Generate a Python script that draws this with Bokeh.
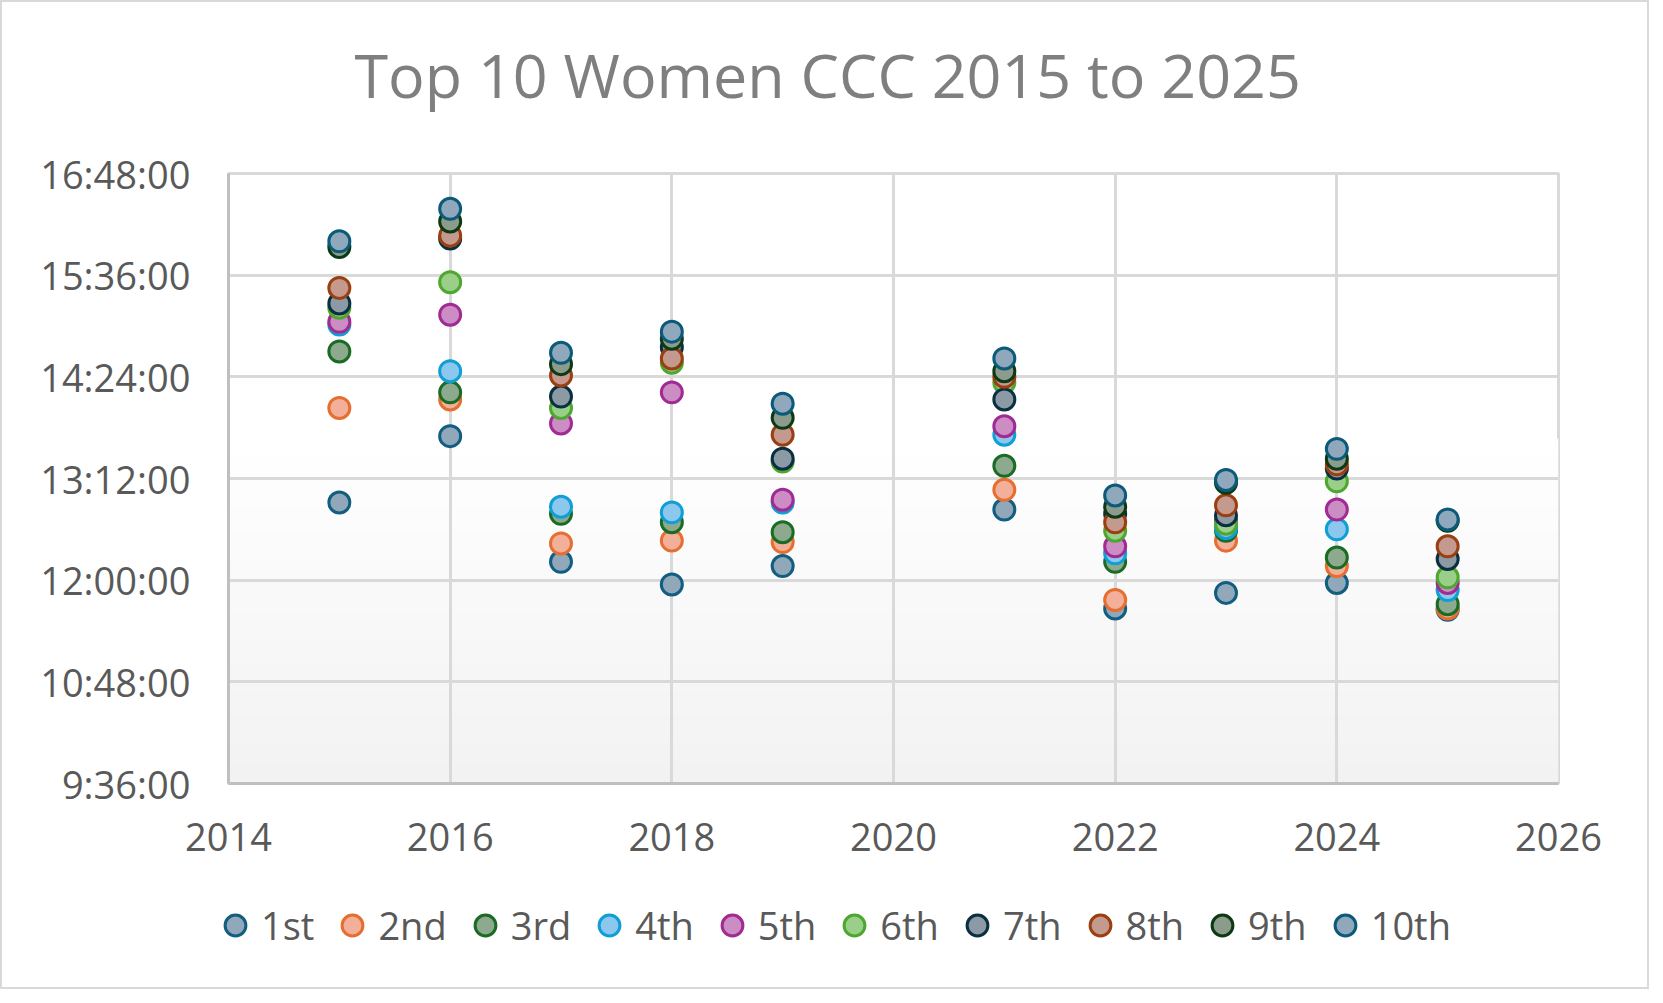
import numpy as np
from bokeh.plotting import figure
from bokeh.layouts import column
from bokeh.models import Range1d, FixedTicker, Legend, LegendItem, Title
from bokeh.embed import file_html
from bokeh.resources import INLINE

years = [2015, 2016, 2017, 2018, 2019, 2021, 2022, 2023, 2024, 2025]
places = ["1st", "2nd", "3rd", "4th", "5th", "6th", "7th", "8th", "9th", "10th"]

t_1st  = ["12:55", "13:42", "12:13", "11:57", "12:10", "12:50", "11:40", "11:51", "11:58", "11:39"]
t_2nd  = ["14:02", "14:08", "12:26", "12:28", "12:27", "13:04", "11:46", "12:28", "12:10", "11:40"]
t_3rd  = ["14:42", "14:13", "12:47", "12:41", "12:34", "13:21", "12:13", "12:35", "12:16", "11:43"]
t_4th  = ["15:01", "14:28", "12:52", "12:48", "12:55", "13:43", "12:19", "12:37", "12:36", "11:53"]
t_5th  = ["15:03", "15:08", "13:51", "14:13", "12:57", "13:49", "12:24", "12:42", "12:50", "11:58"]
t_6th  = ["15:13", "15:31", "14:02", "14:34", "13:24", "14:20", "12:35", "12:40", "13:10", "12:02"]
t_7th  = ["15:16", "16:02", "14:10", "14:45", "13:26", "14:08", "12:47", "12:46", "13:19", "12:15"]
t_8th  = ["15:27", "16:04", "14:25", "14:37", "13:43", "14:24", "12:41", "12:53", "13:22", "12:24"]
t_9th  = ["15:56", "16:14", "14:33", "14:51", "13:55", "14:28", "12:52", "13:09", "13:26", "12:42"]
t_10th = ["16:00", "16:23", "14:41", "14:56", "14:05", "14:37", "13:00", "13:11", "13:33", "12:43"]
series_times = [t_1st, t_2nd, t_3rd, t_4th, t_5th, t_6th, t_7th, t_8th, t_9th, t_10th]

x_ticks = [2014, 2016, 2018, 2020, 2022, 2024, 2026]
y_ticks_min = [576, 648, 720, 792, 864, 936, 1008]
y_tick_labels = ["9:36:00", "10:48:00", "12:00:00", "13:12:00", "14:24:00", "15:36:00", "16:48:00"]

line_colors = ["#125E80", "#E66E30", "#1A6B24", "#0F9ED5", "#A02B93",
               "#4EA72E", "#0A2F41", "#9A3F12", "#0D3A14", "#0B5A7A"]
fill_colors = ["#91A7BA", "#F2B09A", "#8DAA8F", "#8CC8EE", "#CC8CC4",
               "#9ACF8A", "#8C9AA5", "#C49A8E", "#8C9C8C", "#8FA8BC"]


def to_min(s):
    h, m = s.split(":")
    return int(h) * 60 + int(m)


FONT = "Open Sans"

p = figure(width=1645, height=860, output_backend="svg", toolbar_location=None,
           title=None,
           x_range=Range1d(2014, 2026), y_range=Range1d(576, 1008),
           min_border_left=226, min_border_right=89, min_border_top=171,
           min_border_bottom=79)
p.frame_align = False

# spacer (nearest the frame) then the real title
p.add_layout(Title(text=" ", text_font_size="10px", standoff=40), "above")
p.add_layout(Title(text="Top 10 Women CCC 2015 to 2025", align="left", offset=126,
                   text_font=FONT, text_font_size="61px", text_font_style="normal",
                   text_color="#7F7F7F", standoff=10), "above")

# plot-area gradient (style only)
g_edges = np.linspace(576, 820, 61)
g_cols = []
for i in range(60):
    v = int(round(242 + (255 - 242) * i / 59))
    g_cols.append("#%02x%02x%02x" % (v, v, v))
p.quad(left=2014, right=2026, bottom=g_edges[:-1], top=g_edges[1:] + 0.5,
       fill_color=g_cols, line_color=None, level="image")

p.xaxis.ticker = FixedTicker(ticks=x_ticks)
p.yaxis.ticker = FixedTicker(ticks=y_ticks_min)
p.yaxis.major_label_overrides = {t: l for t, l in zip(y_ticks_min, y_tick_labels)}
for ax in (p.xaxis, p.yaxis):
    ax.major_tick_line_color = None
    ax.minor_tick_line_color = None
    ax.axis_line_color = "#BFBFBF"
    ax.axis_line_width = 3
    ax.major_label_text_font = FONT
    ax.major_label_text_font_size = "38px"
    ax.major_label_text_color = "#595959"
p.yaxis.major_label_standoff = 32
p.xaxis.major_label_standoff = 33

p.xgrid.ticker = FixedTicker(ticks=x_ticks)
p.ygrid.ticker = FixedTicker(ticks=y_ticks_min)
p.grid.grid_line_color = "#D9D9D9"
p.grid.grid_line_width = 3
p.outline_line_color = "#D9D9D9"
p.outline_line_width = 3
p.background_fill_color = "white"

# legend strip below the chart
pl = figure(width=1645, height=125, output_backend="svg", toolbar_location=None,
            x_range=Range1d(0, 1), y_range=Range1d(0, 1),
            x_axis_location=None, y_axis_location=None, min_border=0)
pl.frame_align = False
pl.grid.visible = False
pl.outline_line_color = None

items = []
for name, times, lc, fc in zip(places, series_times, line_colors, fill_colors):
    p.scatter(x=years, y=[to_min(t) for t in times], size=21, marker="circle",
              fill_color=fc, line_color=lc, line_width=3)
    rl = pl.scatter(x=[np.nan], y=[np.nan], size=21, marker="circle",
                    fill_color=fc, line_color=lc, line_width=3)
    items.append(LegendItem(label=name, renderers=[rl]))

legend = Legend(items=items, orientation="horizontal", location=(201, 30),
                label_text_font=FONT, label_text_font_size="38px",
                label_text_color="#595959", glyph_width=52, glyph_height=52,
                label_standoff=0, spacing=12, border_line_alpha=0,
                background_fill_alpha=0, margin=0, padding=6)
pl.add_layout(legend, "center")

layout = column(p, pl, spacing=0)
layout.styles = {"border": "2px solid #D9D9D9"}

open("out.html", "w").write(file_html(layout, INLINE))
